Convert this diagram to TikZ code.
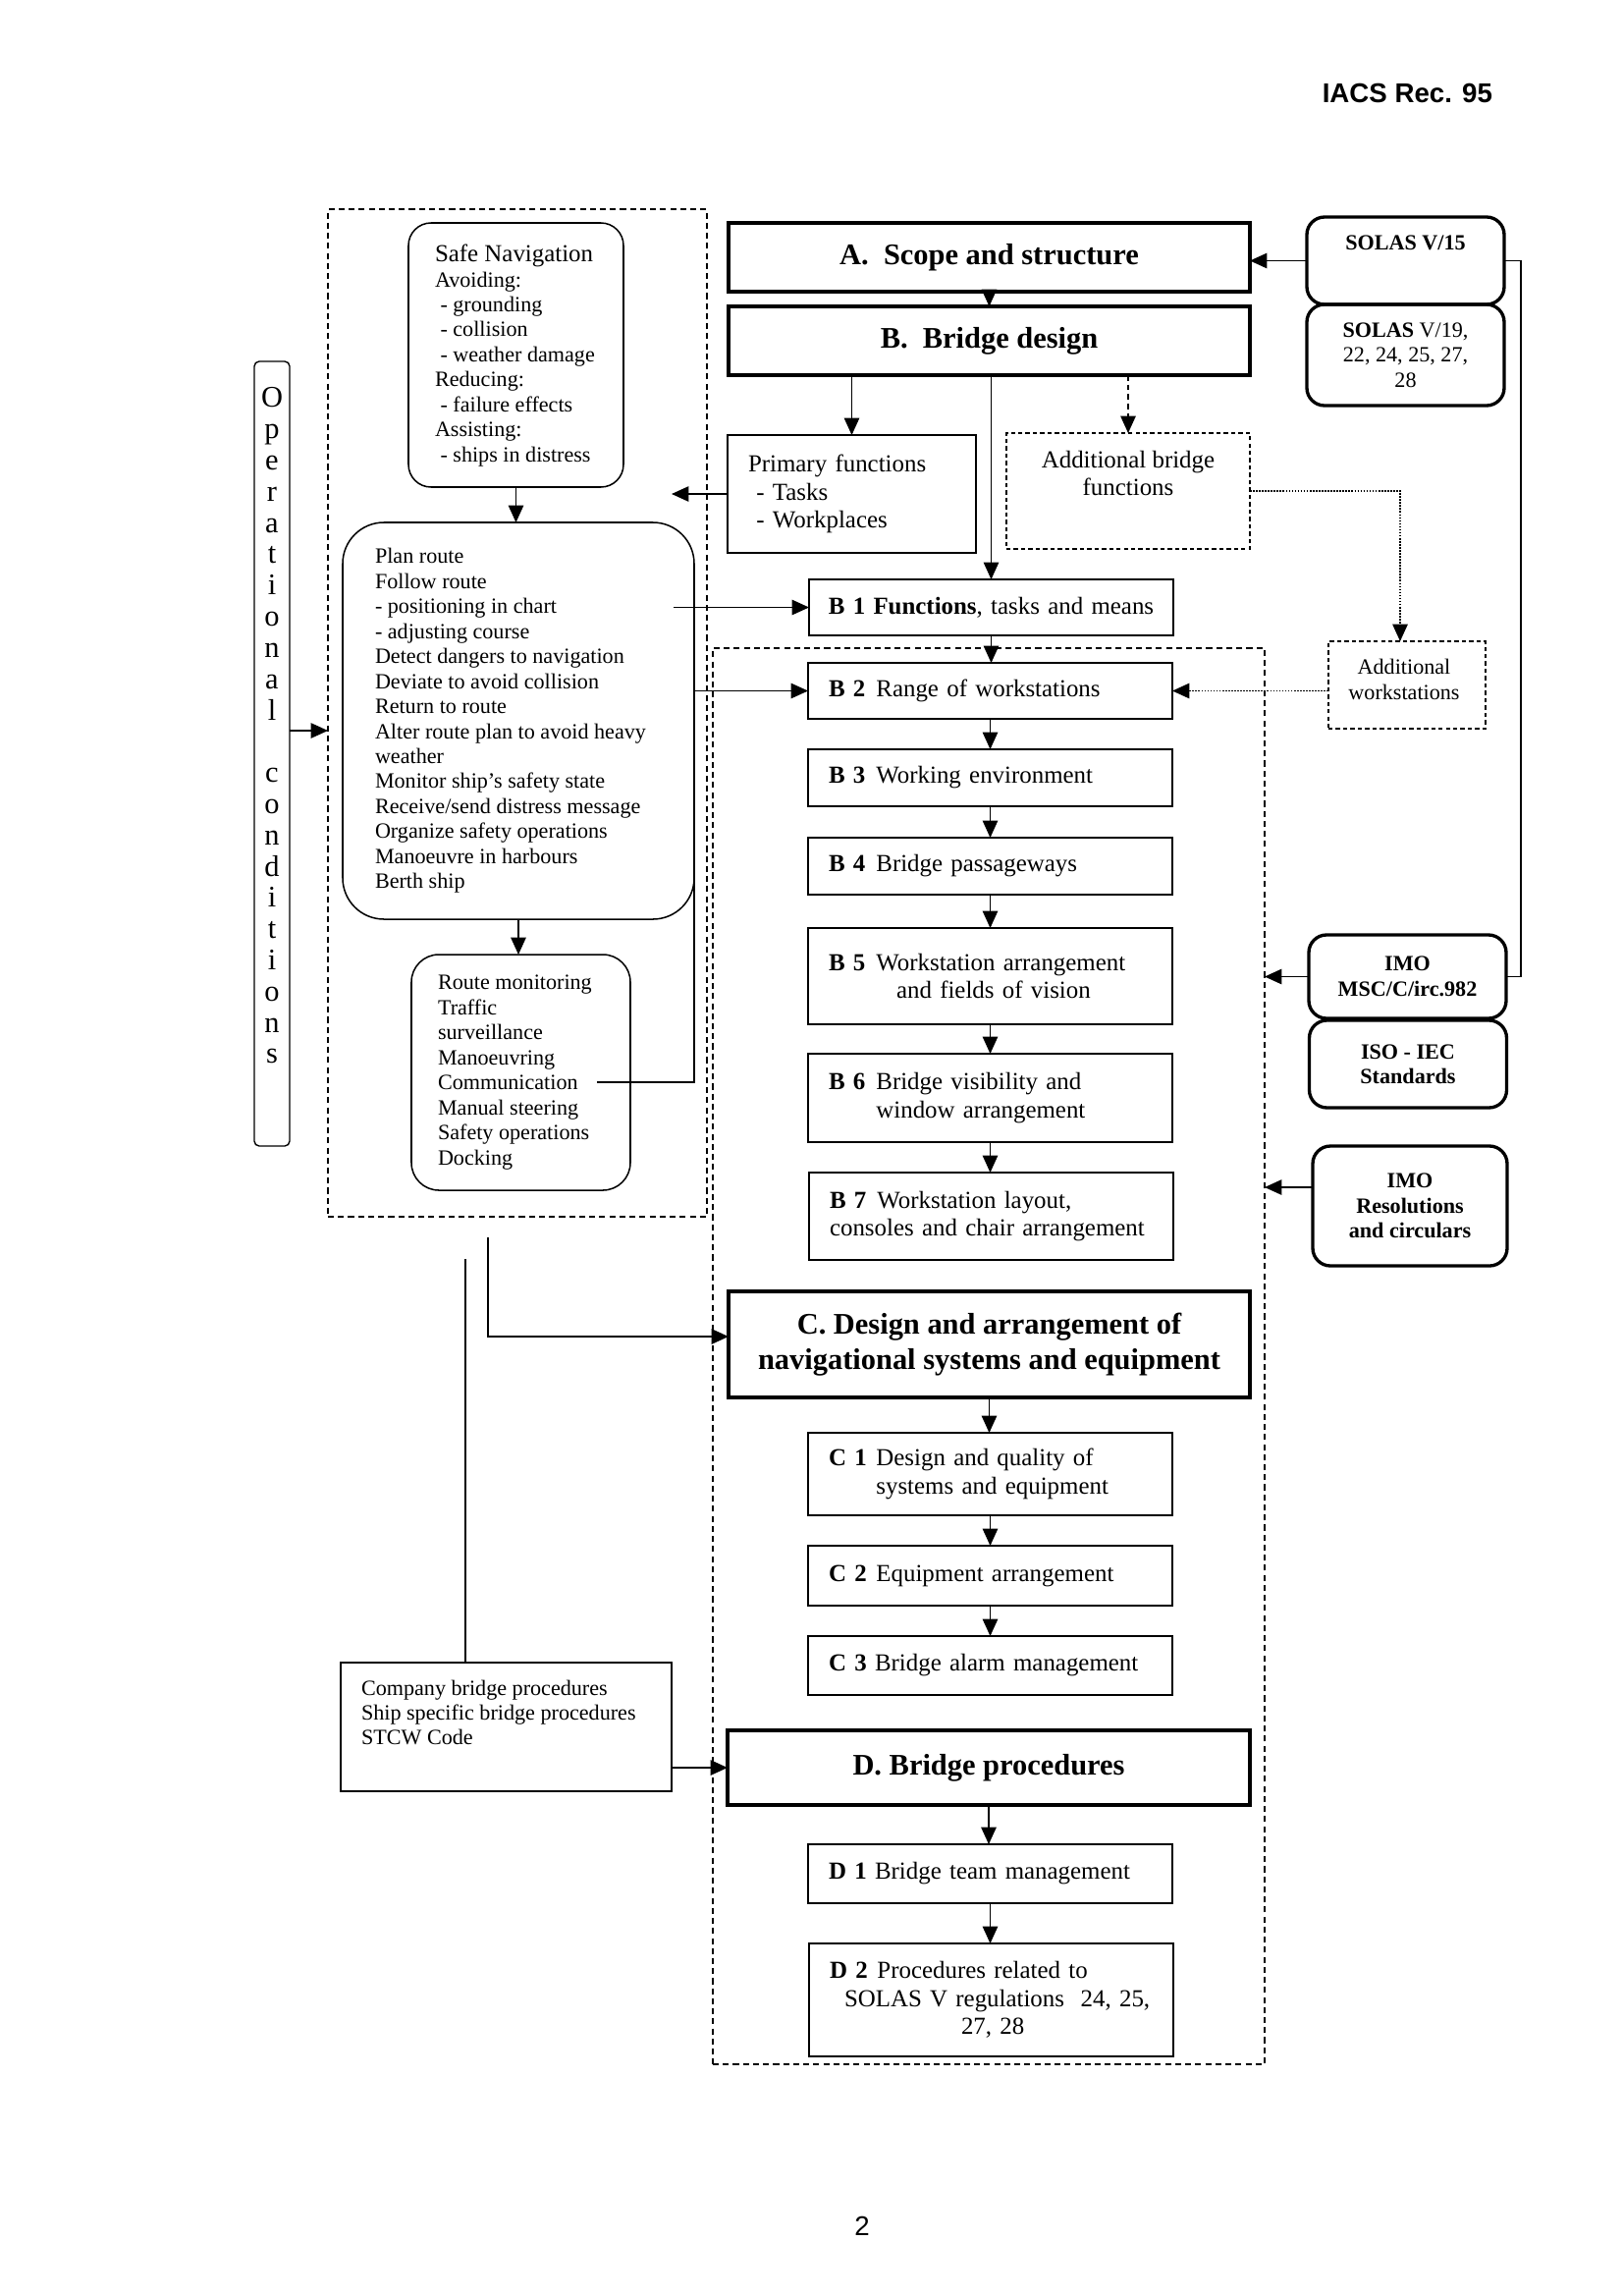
\documentclass[tikz,border=0pt]{standalone}
\usepackage{fontspec}
\setmainfont{Liberation Serif}
\newfontfamily\hdrfont{Liberation Sans}
\usetikzlibrary{arrows.meta}
\newlength\ux
\setlength\ux{0.12704mm}
\newcommand\blab[1]{\makebox[17.5pt][l]{\textbf{#1}}}
\tikzset{
  every node/.style={inner sep=0pt, outer sep=0pt},
  arr/.style={-{Triangle[length=6.3pt,width=5.6pt]}, line width=0.5pt},
  thinline/.style={line width=0.45pt},
  heading/.style={draw, line width=1.3pt, font=\bfseries\fontsize{11}{13}\selectfont, align=center, minimum width=531\ux},
  subbox/.style={draw, line width=0.6pt, font=\fontsize{9}{10.3}\selectfont, align=left, text width=329\ux, inner xsep=21\ux, minimum width=371\ux},
  dsub/.style={subbox, line width=1pt},
  leftbox/.style={draw, line width=0.55pt},
  lefttext/.style={font=\fontsize{8}{9.2}\selectfont, align=left, anchor=west},
  regbox/.style={draw, line width=1.2pt, rounded corners=18\ux, font=\bfseries\fontsize{8}{9.2}\selectfont, align=center, minimum width=201\ux},
  outerdash/.style={draw, line width=0.5pt, dash pattern=on 2.2pt off 1.5pt},
  finedash/.style={draw, line width=0.45pt, dash pattern=on 1.6pt off 1.1pt},
  dotline/.style={line width=0.5pt, dash pattern=on 0.6pt off 0.5pt},
}
\begin{document}
\begin{tikzpicture}[x=0.12704mm, y={(0mm,-0.12704mm)}]
\fill[white] (0,0) rectangle (1653,2338);
\useasboundingbox (0,0) rectangle (1653,2338);

% header and page number
\node[font=\hdrfont\bfseries\fontsize{10}{12}\selectfont, anchor=east] (hdr) at (1520,95) {IACS Rec. 95};
\node[font=\hdrfont\fontsize{10}{12}\selectfont] (pg) at (878,2267) {2};

% dashed groups
\node[outerdash, minimum width=386\ux, minimum height=1026\ux] (ops) at (527,726) {};
\node[outerdash, minimum width=562\ux, minimum height=1442\ux] (inner) at (1007,1381) {};

% left column
\node[leftbox, rounded corners=23\ux, minimum width=219\ux, minimum height=269\ux] (safe) at (525.5,361.5) {};
\node[lefttext] (safet) at (443,362) {{\fontsize{9}{9.2}\selectfont Safe Navigation}\\Avoiding:\\\hspace*{2pt}- grounding\\\hspace*{2pt}- collision\\\hspace*{2pt}- weather damage\\Reducing:\\\hspace*{2pt}- failure effects\\Assisting:\\\hspace*{2pt}- ships in distress};

\node[leftbox, rounded corners=42\ux, minimum width=358\ux, minimum height=404\ux] (plan) at (528,734) {};
\node[lefttext] (plant) at (382,734) {Plan route\\Follow route\\- positioning in chart\\- adjusting course\\Detect dangers to navigation\\Deviate to avoid collision\\Return to route\\Alter route plan to avoid heavy\\weather\\Monitor ship’s safety state\\Receive/send distress message\\Organize safety operations\\Manoeuvre in harbours\\Berth ship};

\node[leftbox, rounded corners=28\ux, minimum width=223\ux, minimum height=240\ux] (route) at (530.5,1092) {};
\node[lefttext] (routet) at (446,1092) {Route monitoring\\Traffic\\surveillance\\Manoeuvring\\Communication\\Manual steering\\Safety operations\\Docking};

\node[draw, line width=0.5pt, rounded corners=5\ux, minimum width=36\ux, minimum height=799\ux] (opc) at (277,767.5) {};
\node[font=\fontsize{11}{11.5}\selectfont, align=center] (opct) at (277,739) {O\\p\\e\\r\\a\\t\\i\\o\\n\\a\\l\\[11.5pt]c\\o\\n\\d\\i\\t\\i\\o\\n\\s};

\node[leftbox, line width=0.7pt, minimum width=337\ux, minimum height=131\ux] (comp) at (515.5,1758.5) {};
\node[lefttext] (compt) at (368,1744) {Company bridge procedures\\Ship specific bridge procedures\\STCW Code};

% middle column
\node[heading, minimum height=70\ux] (A) at (1007.5,262) {A.\ \ Scope and structure};
\node[heading, minimum height=70\ux] (B) at (1007.5,347) {B.\ \ Bridge design};

\node[draw, line width=0.6pt, font=\fontsize{9}{10.4}\selectfont, align=left, text width=211\ux, inner xsep=21\ux, minimum height=120\ux] (prim) at (867.5,503) {Primary functions\\\hspace*{3pt}- Tasks\\\hspace*{3pt}- Workplaces};

\node[finedash, minimum width=248\ux, minimum height=118\ux] (addb) at (1149,500) {};
\node[font=\fontsize{9}{10.3}\selectfont, align=center] (addbt) at (1149,482) {Additional bridge\\functions};

\node[finedash, minimum width=160\ux, minimum height=89\ux] (addw) at (1433,697.5) {};
\node[font=\fontsize{8}{9.3}\selectfont, align=center] (addwt) at (1430,692) {Additional\\workstations};

\node[subbox, align=center, text width=357\ux, inner xsep=7\ux, minimum height=57\ux] (b1) at (1009.5,618.5) {\textbf{B 1 Functions}, tasks and means};
\node[subbox, minimum height=57\ux] (b2) at (1008.5,703.5) {\blab{B 2}Range of workstations};
\node[subbox, minimum height=58\ux] (b3) at (1008.5,792) {\blab{B 3}Working environment};
\node[subbox, minimum height=58\ux] (b4) at (1008.5,882) {\blab{B 4}Bridge passageways};
\node[subbox, minimum height=98\ux] (b5) at (1008.5,994) {\blab{B 5}Workstation arrangement\\\hspace*{69\ux}and fields of vision};
\node[subbox, minimum height=90\ux] (b6) at (1008.5,1118) {\blab{B 6}Bridge visibility and\\\hspace*{17.5pt}window arrangement};
\node[subbox, minimum height=89\ux] (b7) at (1009.5,1238.5) {\blab{B 7}Workstation layout,\\consoles and chair arrangement};

\node[heading, minimum height=108\ux] (C) at (1007.5,1369) {C. Design and arrangement of\\navigational systems and equipment};
\node[subbox, minimum height=84\ux] (c1) at (1008.5,1501) {\blab{C 1}Design and quality of\\\hspace*{17.5pt}systems and equipment};
\node[subbox, minimum height=61\ux] (c2) at (1008.5,1604.5) {\blab{C 2}Equipment arrangement};
\node[subbox, minimum height=60\ux] (c3) at (1008.5,1696) {\textbf{C 3} Bridge alarm management};

\node[heading, minimum height=76\ux, minimum width=532\ux] (D) at (1007,1800) {D. Bridge procedures};
\node[dsub, minimum height=60\ux] (d1) at (1008.5,1908) {\textbf{D 1} Bridge team management};
\node[dsub, minimum height=115\ux] (d2) at (1009.5,2036.5) {\blab{D 2}Procedures related to\\\hspace*{15\ux}SOLAS V regulations\ \ 24, 25,\\\hspace*{134\ux}27, 28};

% right column
\node[regbox, minimum height=89\ux] (s15) at (1431.5,265.5) {};
\node[font=\bfseries\fontsize{8}{9.2}\selectfont] (s15t) at (1431.5,247) {SOLAS V/15};
\node[regbox, minimum height=103\ux, font=\fontsize{8}{9.2}\selectfont] (s19) at (1431.5,361.5) {\textbf{SOLAS} V/19,\\22, 24, 25, 27,\\28};
\node[regbox, minimum height=85\ux] (imo1) at (1433.5,994.5) {IMO\\MSC/C/irc.982};
\node[regbox, minimum height=89\ux] (iso) at (1434,1083.5) {ISO - IEC\\Standards};
\node[regbox, minimum height=122\ux, minimum width=198\ux] (imo2) at (1436,1228) {IMO\\Resolutions\\and circulars};

% connectors
\draw[arr] (safe.south) -- (safe.south |- plan.north);
\draw[arr] (plan.south) -- (plan.south |- route.north);
\draw[arr] (opc.east |- 0,744) -- (ops.west |- 0,744);

\draw[arr] (A.south) -- (B.north);
\draw[arr] (B.south -| prim.north) -- (prim.north);
\draw[arr] (B.south -| b1.north) -- (b1.north);
\draw[arr, dash pattern=on 2pt off 1.5pt] (B.south -| addb.north) -- (addb.north);

\coordinate (pfa) at (684,503);
\draw[arr] (prim.west) -- (pfa);

\draw[arr, dotline] (addb.east) -| ([xshift=-7\ux]addw.north);
\draw[arr, dotline] (addw.west |- b2.east) -- (b2.east);

\coordinate (pl) at (686,618.5);
\draw[arr] (pl) -- (b1.west);
\coordinate (rm) at (608,1102);
\draw[arr] (rm) -| (plan.east |- b2.west) -- (b2.west);

\foreach \p/\q in {b1/b2,b2/b3,b3/b4,b4/b5,b5/b6,b6/b7,C/c1,c1/c2,c2/c3,D/d1,d1/d2}
  \draw[arr] (\p.south) -- (\p.south |- \q.north);

\draw[arr] (s15.west) -- (s15.west -| A.east);
\draw[thinline] (s15.east) -- ++(17,0) |- (imo1.east);
\draw[arr] (imo1.west) -- (imo1.west -| inner.east);
\draw[arr] (imo2.west |- 0,1209) -- (inner.east |- 0,1209);

\coordinate (cl) at (497,1260);
\draw[arr] (cl) |- ([yshift=8\ux]C.west);
\coordinate (dl) at (474,1282);
\draw[thinline] (dl) -- (dl |- comp.north);
\draw[arr] (comp.east |- D.west) -- (D.west);
\end{tikzpicture}
\end{document}
